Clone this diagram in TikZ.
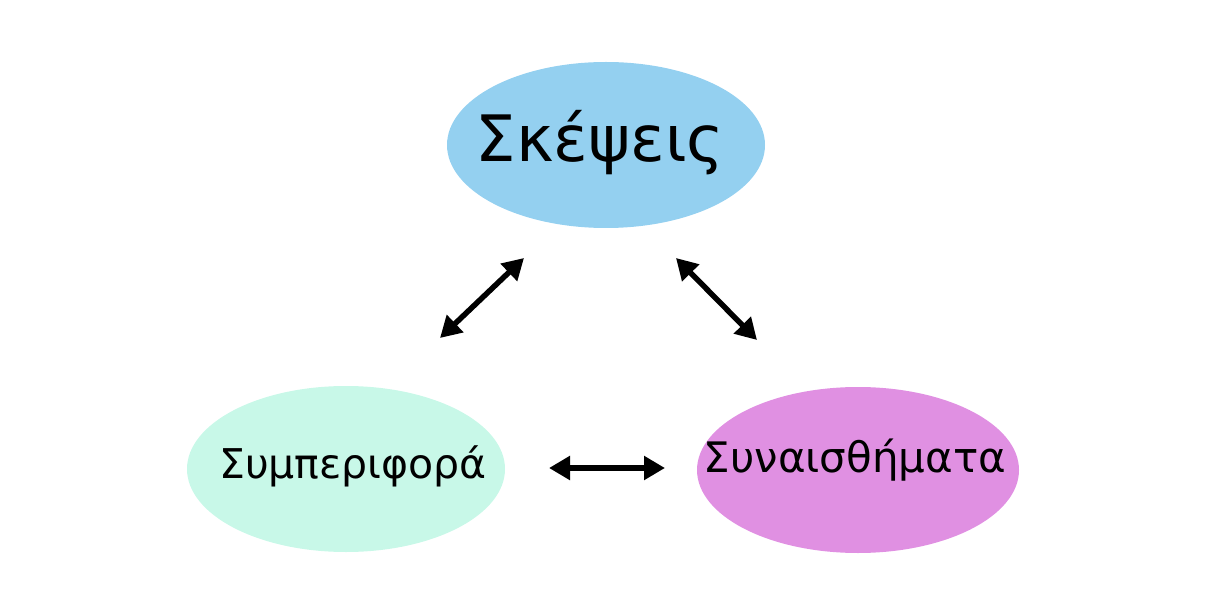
\documentclass[tikz,border=0pt]{standalone}
\usepackage{fontspec}
\setmainfont{DejaVu Sans}
\usetikzlibrary{shapes.geometric, arrows.meta}

\definecolor{skepblue}{RGB}{148,208,240}
\definecolor{symbmint}{RGB}{200,248,232}
\definecolor{synaviol}{RGB}{224,144,226}

\begin{document}
\begin{tikzpicture}[x=1pt, y=-1pt]
\tikzset{ >={Triangle[length=21pt,width=23pt]}, inner sep=0pt, outer sep=0pt,
  blob/.style={ellipse, draw=none, minimum width=318pt, minimum height=166pt},
  dbl/.style={<->, line width=5.5pt},
}

\useasboundingbox (0,0) rectangle (1209,593);

%\draw [lightgray, dashed](0,0) grid[step=50] (1209,593);

\node [blob, fill=skepblue] (S) at (606,145) {};
\node [blob, fill=symbmint] (B) at (346,469) {};
\node [blob, fill=synaviol, minimum width=322pt] (E) at (858,470) {};

\node (St) at (600,143) {\fontsize{64}{68}\selectfont Σκέψεις};
\node (Bt) at (353,466) {\fontsize{41}{45}\selectfont Συμπεριφορά};
\node (Et) at (855,460) {\fontsize{42}{46}\selectfont Συναισθήματα};

\coordinate (SB) at (524,258);
\coordinate (BS) at (440,338);
\coordinate (SE) at (676,258);
\coordinate (ES) at (757,340);
\coordinate (BE) at (549,468);
\coordinate (EB) at (665,468);

\draw [dbl] (BS)--(SB);
\draw [dbl] (SE)--(ES);
\draw [dbl] (BE)--(EB);

\end{tikzpicture}
\end{document}
